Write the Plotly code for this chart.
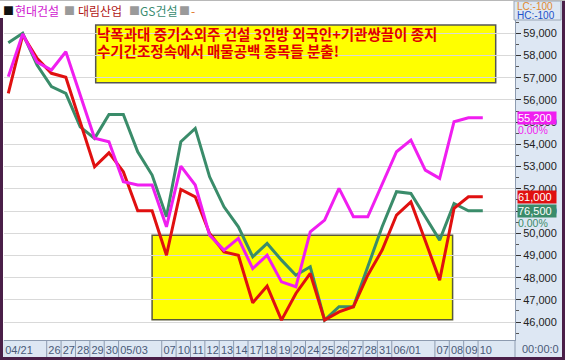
import plotly.graph_objects as go

dates = ["04/21", "04/22", "04/23", "04/26", "04/27", "04/28", "04/29", "04/30",
         "05/03", "05/04", "05/06", "05/07", "05/10", "05/11", "05/12", "05/13",
         "05/14", "05/17", "05/18", "05/19", "05/20", "05/24", "05/25", "05/26",
         "05/27", "05/28", "05/31", "06/01", "06/03", "06/04", "06/07", "06/08",
         "06/09", "06/10"]

hyundai = [57050, 58970, 57700, 57350, 58170, 56220, 54280, 54120, 52320, 52170,
           52170, 50290, 53020, 52170, 49910, 49240, 49770, 48410, 49010, 47810,
           47590, 50060, 50590, 52020, 50740, 50740, 52240, 53670, 54190, 52840,
           52470, 55020, 55200, 55200]
daelim = [56300, 58920, 57870, 57200, 57020, 55020, 52990, 53620, 52770, 51010,
          51010, 49010, 51970, 51640, 49990, 49160, 49010, 46870, 47620, 46090,
          47290, 48190, 46090, 46460, 46690, 48110, 49240, 50820, 51410, 49660,
          47890, 51120, 51640, 51640]
gs = [58580, 59000, 57570, 56600, 56300, 54790, 54270, 55350, 55350, 53670,
      52620, 50740, 54120, 54720, 52540, 51190, 50290, 48940, 49540, 48790,
      48110, 48490, 46090, 46690, 46690, 48490, 50290, 51870, 51790, 50740,
      49690, 51340, 51010, 51010]

tick_idx = [0, 3, 4, 5, 6, 7, 8, 11, 12, 13, 14, 15, 16, 17, 18, 19, 20, 21,
            22, 23, 24, 25, 26, 27, 30, 31, 32, 33]
tick_text = ["04/21", "26", "27", "28", "29", "30", "05/03", "07", "10", "11",
             "12", "13", "14", "17", "18", "19", "20", "24", "25", "26", "27",
             "28", "31", "06/01", "07", "08", "09", "10"]

names = ["현대건설", "대림산업", "GS건설"]
last_labels = ["55,200", "61,000", "76,500"]
headline = ["낙폭과대 중기소외주 건설 3인방 외국인+기관쌍끌이 종지",
            "수기간조정속에서 매물공백 종목들 분출!"]

C_MAG = "#f01ef0"
C_RED = "#e01010"
C_GRN = "#3a8c6a"
PANEL = "#dde7f3"
KFONT = "Noto Sans CJK KR"
NFONT = "Liberation Sans"

xs = list(range(len(dates)))

fig = go.Figure()
fig.add_trace(go.Scatter(x=xs, y=gs, mode="lines", name=names[2],
                         line=dict(color=C_GRN, width=3)))
fig.add_trace(go.Scatter(x=xs, y=daelim, mode="lines", name=names[1],
                         line=dict(color=C_RED, width=3)))
fig.add_trace(go.Scatter(x=xs, y=hyundai, mode="lines", name=names[0],
                         line=dict(color=C_MAG, width=3)))

# pixel helpers for paper coordinates (plot area: x 4..515, y 20..340)
def px(x):
    return (x - 4) / 511.0

def py(y):
    return (340 - y) / 320.0

shapes = []
shapes.append(dict(type="rect", xref="paper", yref="paper", x0=px(515), x1=px(562),
                   y0=py(357), y1=py(0), fillcolor=PANEL, line=dict(width=0), layer="below"))
shapes.append(dict(type="rect", xref="paper", yref="paper", x0=px(3), x1=px(515),
                   y0=py(357), y1=py(340), fillcolor=PANEL, line=dict(width=0), layer="below"))
for i in tick_idx:
    shapes.append(dict(type="line", xref="x", yref="paper", x0=i - 0.33, x1=i - 0.33,
                       y0=py(357), y1=py(340), line=dict(color="#8d9bb0", width=1)))
shapes.append(dict(type="line", xref="paper", yref="paper", x0=px(515), x1=px(515),
                   y0=py(357), y1=py(340), line=dict(color="#8d9bb0", width=1)))
# highlight yellow box (lower)
shapes.append(dict(type="rect", xref="x", yref="y", x0=10.0, x1=30.9, y0=46110, y1=49910,
                   fillcolor="#ffff00", line=dict(color="#5a5a3a", width=1.5), layer="below"))
# headline yellow box
shapes.append(dict(type="rect", xref="paper", yref="paper", x0=px(95.7), x1=px(495.7),
                   y0=py(82.7), y1=py(25), fillcolor="#ffff00",
                   line=dict(color="#555555", width=1.5), layer="below"))
# LC/HC box
shapes.append(dict(type="rect", xref="paper", yref="paper", x0=px(514), x1=px(561),
                   y0=py(20), y1=py(1), fillcolor=PANEL, line=dict(color="#9aa6b5", width=1),
                   layer="below"))
# outer frame
FR = "#4a1f48"
shapes.append(dict(type="line", xref="paper", yref="paper", x0=px(1.5), x1=px(1.5),
                   y0=py(360), y1=py(18), line=dict(color=FR, width=3)))
shapes.append(dict(type="line", xref="paper", yref="paper", x0=px(563.5), x1=px(563.5),
                   y0=py(360), y1=py(0), line=dict(color=FR, width=3)))
shapes.append(dict(type="line", xref="paper", yref="paper", x0=px(0), x1=px(565),
                   y0=py(358.5), y1=py(358.5), line=dict(color=FR, width=3)))
shapes.append(dict(type="line", xref="paper", yref="paper", x0=px(0), x1=px(565),
                   y0=py(0.5), y1=py(0.5), line=dict(color="#b8b8b8", width=1)))

annotations = []
for k, line in enumerate(headline):
    annotations.append(dict(xref="paper", yref="paper", x=px(96), y=py(34 + 16 * k),
                            xanchor="left", yanchor="middle", align="left", showarrow=False,
                            text=line, borderpad=0,
                            font=dict(family=KFONT, size=14.5, color="#e00000", weight="bold")))
# legend
leg = [(2, "■", "#111111", 11), (14, names[0], "#d020d0", 12), (63, "■", "#9a9a9a", 11),
       (77, names[1], "#b01818", 12), (128, "■", "#9a9a9a", 11), (139, names[2], "#3a8c70", 12),
       (178, "■", "#9a9a9a", 11), (190, "-", "#e07020", 12)]
for xx, t, c, s in leg:
    annotations.append(dict(xref="paper", yref="paper", x=px(xx), y=py(10), xanchor="left",
                            yanchor="middle", showarrow=False, text=t, borderpad=0,
                            font=dict(family=KFONT, size=s, color=c)))
annotations.append(dict(xref="paper", yref="paper", x=px(516), y=py(6), xanchor="left",
                        yanchor="middle", showarrow=False, text="LC:-100", borderpad=0,
                        font=dict(family=NFONT, size=10, color="#e08a30")))
annotations.append(dict(xref="paper", yref="paper", x=px(516), y=py(15), xanchor="left",
                        yanchor="middle", showarrow=False, text="HC:-100", borderpad=0,
                        font=dict(family=NFONT, size=10, color="#2050c8")))
for val, lab, col in [(hyundai[-1], last_labels[0], C_MAG), (daelim[-1], last_labels[1], C_RED),
                      (gs[-1], last_labels[2], C_GRN)]:
    annotations.append(dict(xref="paper", yref="y", x=px(517), y=val, xanchor="left",
                            yanchor="middle", showarrow=False, text=lab, bgcolor=col,
                            borderpad=0, width=38, align="left",
                            font=dict(family=NFONT, size=11, color="white")))
for val, col in [(hyundai[-1], C_MAG), (gs[-1], C_GRN)]:
    annotations.append(dict(xref="paper", yref="y", x=px(517), y=val, yshift=-12,
                            xanchor="left", yanchor="middle", showarrow=False, text="0.00%",
                            borderpad=0, font=dict(family=NFONT, size=10.5, color=col)))
annotations.append(dict(xref="paper", yref="paper", x=px(521), y=py(349), xanchor="left",
                        yanchor="middle", showarrow=False, text="00:00:0", borderpad=0,
                        font=dict(family=NFONT, size=11, color="#4a5a78")))

fig.update_layout(
    width=565, height=360,
    margin=dict(l=4, r=50, t=20, b=20, autoexpand=False),
    paper_bgcolor="white", plot_bgcolor="rgba(0,0,0,0)",
    showlegend=False,
    shapes=shapes, annotations=annotations,
    xaxis=dict(range=[-0.3, 35.24], tickmode="array", tickvals=[i - 0.25 for i in tick_idx],
               ticktext=tick_text, ticks="", ticklabelposition="outside right",
               tickangle=0, automargin=False,
               showgrid=False, zeroline=False, showline=True, linecolor="#8d9bb0",
               tickfont=dict(family=NFONT, size=11, color="#4a5a78")),
    yaxis=dict(side="right", range=[45194, 59599], tick0=46000, dtick=1000,
               tickformat=",d", ticks="outside", ticklen=5, tickcolor="#333333",
               automargin=False,
               showgrid=True, gridcolor="#d9d9d9", gridwidth=1, zeroline=False,
               showline=True, linecolor="#8d9bb0",
               minor=dict(ticks="outside", ticklen=3, dtick=500, tickcolor="#555555",
                          showgrid=False),
               tickfont=dict(family=NFONT, size=11, color="#222222")),
)

fig.write_html("out.html", config={"displayModeBar": False},
               post_script="document.body.style.margin='0';document.body.style.padding='0';")
